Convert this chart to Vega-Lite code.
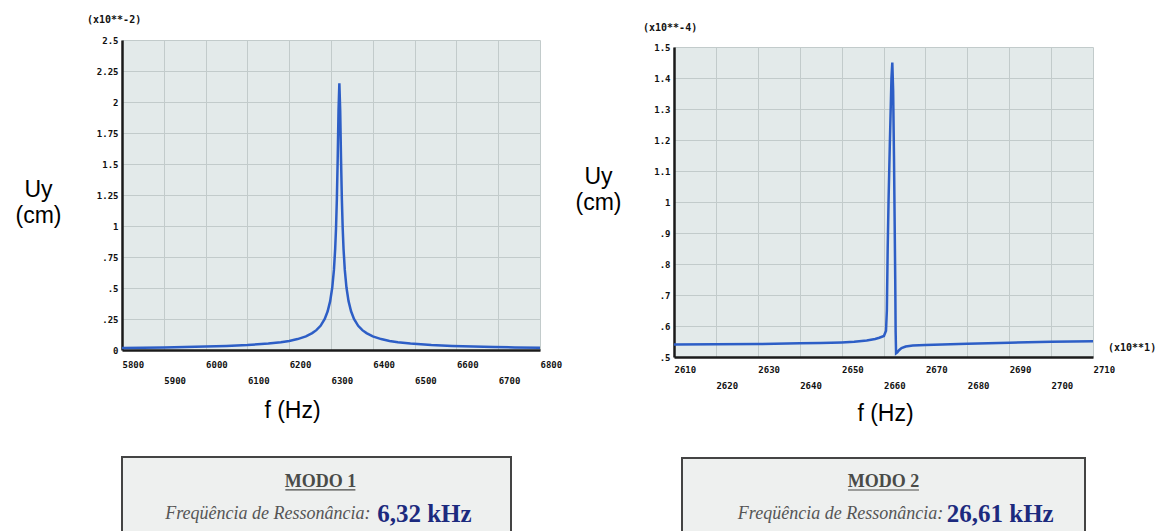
{
  "$schema": "https://vega.github.io/schema/vega-lite/v6.json",
  "background": "white",
  "padding": {"left": 15, "top": 15, "right": 0, "bottom": 0},
  "config": {
    "view": {"stroke": null},
    "axis": {
      "domainColor": "#1a1a1a",
      "domainWidth": 2.5,
      "ticks": false,
      "grid": true,
      "gridColor": "#c2cbcb",
      "gridWidth": 1,
      "labelFont": "DejaVu Sans Mono",
      "labelFontWeight": "bold",
      "labelFontSize": 9,
      "labelColor": "#111111",
      "labelFlush": false,
      "labelOverlap": false,
      "titleFont": "Liberation Sans",
      "titleFontWeight": "normal",
      "titleFontSize": 23,
      "titleColor": "#000000"
    }
  },
  "hconcat": [
    {
      "vconcat": [
        {
          "width": 418,
          "height": 310,
          "view": {"fill": "#e3eaea", "stroke": null},
          "layer": [
            {
              "data": {"values": [
                {"f": 5800, "uy": 0.017}, {"f": 5850, "uy": 0.019}, {"f": 5900, "uy": 0.021}, {"f": 5950, "uy": 0.024},
                {"f": 6000, "uy": 0.028}, {"f": 6050, "uy": 0.033}, {"f": 6100, "uy": 0.040}, {"f": 6150, "uy": 0.052},
                {"f": 6180, "uy": 0.063}, {"f": 6200, "uy": 0.073}, {"f": 6220, "uy": 0.088}, {"f": 6240, "uy": 0.110},
                {"f": 6255, "uy": 0.136}, {"f": 6265, "uy": 0.160}, {"f": 6275, "uy": 0.195}, {"f": 6285, "uy": 0.250},
                {"f": 6292, "uy": 0.312}, {"f": 6298, "uy": 0.394}, {"f": 6303, "uy": 0.504}, {"f": 6307, "uy": 0.646},
                {"f": 6310, "uy": 0.815}, {"f": 6312, "uy": 0.98}, {"f": 6314, "uy": 1.214}, {"f": 6316, "uy": 1.539},
                {"f": 6318, "uy": 1.932}, {"f": 6320, "uy": 2.15}, {"f": 6322, "uy": 1.932}, {"f": 6324, "uy": 1.539},
                {"f": 6326, "uy": 1.214}, {"f": 6328, "uy": 0.98}, {"f": 6330, "uy": 0.815}, {"f": 6333, "uy": 0.646},
                {"f": 6337, "uy": 0.504}, {"f": 6342, "uy": 0.394}, {"f": 6348, "uy": 0.312}, {"f": 6355, "uy": 0.250},
                {"f": 6365, "uy": 0.195}, {"f": 6375, "uy": 0.160}, {"f": 6385, "uy": 0.136}, {"f": 6400, "uy": 0.110},
                {"f": 6420, "uy": 0.088}, {"f": 6440, "uy": 0.073}, {"f": 6460, "uy": 0.063}, {"f": 6490, "uy": 0.052},
                {"f": 6540, "uy": 0.040}, {"f": 6590, "uy": 0.033}, {"f": 6640, "uy": 0.028}, {"f": 6690, "uy": 0.024},
                {"f": 6740, "uy": 0.021}, {"f": 6800, "uy": 0.019}
              ]},
              "mark": {"type": "line", "color": "#2d5ec6", "strokeWidth": 2.5, "clip": true},
              "encoding": {
                "x": {
                  "field": "f", "type": "quantitative",
                  "scale": {"domain": [5800, 6800], "nice": false, "zero": false},
                  "axis": {
                    "values": [5800, 5900, 6000, 6100, 6200, 6300, 6400, 6500, 6600, 6700, 6800],
                    "tickCount": 11,
                    "format": "d",
                    "labelExpr": "(datum.value / 100) % 2 == 1 ? ['', datum.label] : datum.label",
                    "labelAlign": "left",
                    "labelOverlap": false,
                    "labelPadding": 10,
                    "labelLineHeight": 16,
                    "title": "f (Hz)",
                    "titleX": 170,
                    "titleY": 60,
                    "titleAlign": "center",
                    "titleBaseline": "middle"
                  }
                },
                "y": {
                  "field": "uy", "type": "quantitative",
                  "scale": {"domain": [0, 2.5], "nice": false},
                  "axis": {
                    "values": [0, 0.25, 0.5, 0.75, 1, 1.25, 1.5, 1.75, 2, 2.25, 2.5],
                    "tickCount": 11,
                    "format": ".2~f",
                    "labelExpr": "replace(datum.label, '0.', '.')",
                    "labelOverlap": false,
                    "labelPadding": 4,
                    "title": ["Uy", "(cm)"],
                    "titleAngle": 0,
                    "titleAlign": "center",
                    "titleBaseline": "top",
                    "titleLineHeight": 26,
                    "titleX": -84,
                    "titleY": 138
                  }
                }
              }
            },
            {
              "data": {"values": [{"note": "(x10**-2)"}]},
              "mark": {"type": "text", "font": "DejaVu Sans Mono", "fontWeight": "bold", "fontSize": 10, "align": "left", "baseline": "middle", "dx": -35, "dy": -20, "color": "#111111"},
              "encoding": {
                "text": {"field": "note"},
                "x": {"datum": 5800, "type": "quantitative"},
                "y": {"datum": 2.5, "type": "quantitative"}
              }
            }
          ]
        },
        {
          "width": 389,
          "height": 80,
          "view": {"fill": "#eef0ef", "stroke": "#444444", "strokeWidth": 2},
          "data": {"values": [
            {"part": "modo", "text": "MODO 1"},
            {"part": "label", "text": "Freqüência de Ressonância:"},
            {"part": "value", "text": "6,32 kHz"}
          ]},
          "layer": [
            {
              "transform": [{"filter": "datum.part == 'modo'"}],
              "mark": {"type": "text", "font": "Liberation Serif", "fontWeight": "bold", "fontSize": 18, "color": "#4a4b48", "align": "center", "baseline": "middle"},
              "encoding": {
                "text": {"field": "text"},
                "x": {"datum": 0.51, "type": "quantitative", "scale": {"domain": [0, 1]}, "axis": null},
                "y": {"datum": 0.31, "type": "quantitative", "scale": {"domain": [0, 1], "reverse": true}, "axis": null}
              }
            },
            {
              "transform": [{"filter": "datum.part == 'modo'"}],
              "mark": {"type": "rule", "color": "#4a4b48", "strokeWidth": 1.2},
              "encoding": {
                "x": {"datum": 0.42, "type": "quantitative", "axis": null},
                "x2": {"datum": 0.60},
                "y": {"datum": 0.41, "type": "quantitative", "axis": null}
              }
            },
            {
              "transform": [{"filter": "datum.part == 'label'"}],
              "mark": {"type": "text", "font": "Liberation Serif", "fontStyle": "italic", "fontSize": 18, "color": "#555555", "align": "right", "baseline": "middle"},
              "encoding": {
                "text": {"field": "text"},
                "x": {"datum": 0.639, "type": "quantitative", "axis": null},
                "y": {"datum": 0.71, "type": "quantitative", "axis": null}
              }
            },
            {
              "transform": [{"filter": "datum.part == 'value'"}],
              "mark": {"type": "text", "font": "Liberation Serif", "fontWeight": "bold", "fontSize": 25, "color": "#1c2a7e", "align": "left", "baseline": "middle"},
              "encoding": {
                "text": {"field": "text"},
                "x": {"datum": 0.656, "type": "quantitative", "axis": null},
                "y": {"datum": 0.71, "type": "quantitative", "axis": null}
              }
            }
          ]
        }
      ],
      "spacing": 107,
      "bounds": "flush"
    },
    {
      "vconcat": [
        {
          "width": 419,
          "height": 1,
          "view": {"stroke": null, "fill": null},
          "data": {"values": [{"t": ""}]},
          "mark": {"type": "text"},
          "encoding": {"text": {"field": "t"}}
        },
        {
          "vconcat": [
            {
              "width": 419,
              "height": 310,
              "view": {"fill": "#e3eaea", "stroke": null},
              "layer": [
                {
                  "data": {"values": [
                    {"f": 2610, "uy": 0.540}, {"f": 2620, "uy": 0.541}, {"f": 2630, "uy": 0.542}, {"f": 2640, "uy": 0.544},
                    {"f": 2645, "uy": 0.545}, {"f": 2650, "uy": 0.547}, {"f": 2653, "uy": 0.549}, {"f": 2656, "uy": 0.553},
                    {"f": 2658, "uy": 0.558}, {"f": 2659, "uy": 0.562}, {"f": 2660.1, "uy": 0.568}, {"f": 2660.6, "uy": 0.585},
                    {"f": 2660.8, "uy": 0.65}, {"f": 2661.0, "uy": 0.85}, {"f": 2661.2, "uy": 1.0}, {"f": 2661.5, "uy": 1.18},
                    {"f": 2661.9, "uy": 1.40}, {"f": 2662.1, "uy": 1.45}, {"f": 2662.3, "uy": 1.36}, {"f": 2662.5, "uy": 1.15},
                    {"f": 2662.65, "uy": 0.95}, {"f": 2662.8, "uy": 0.75}, {"f": 2662.9, "uy": 0.58}, {"f": 2663.0, "uy": 0.512},
                    {"f": 2663.3, "uy": 0.515}, {"f": 2663.7, "uy": 0.522}, {"f": 2664.3, "uy": 0.529}, {"f": 2665.3, "uy": 0.534},
                    {"f": 2667, "uy": 0.537}, {"f": 2670, "uy": 0.539}, {"f": 2680, "uy": 0.543}, {"f": 2690, "uy": 0.546},
                    {"f": 2700, "uy": 0.549}, {"f": 2710, "uy": 0.551}
                  ]},
                  "mark": {"type": "line", "color": "#2d5ec6", "strokeWidth": 2.5, "clip": true},
                  "encoding": {
                    "x": {
                      "field": "f", "type": "quantitative",
                      "scale": {"domain": [2610, 2710], "nice": false, "zero": false},
                      "axis": {
                        "values": [2610, 2620, 2630, 2640, 2650, 2660, 2670, 2680, 2690, 2700, 2710],
                        "tickCount": 11,
                        "format": "d",
                        "labelExpr": "(datum.value / 10) % 2 == 0 ? ['', datum.label] : datum.label",
                        "labelAlign": "left",
                        "labelOverlap": false,
                        "labelPadding": 8,
                        "labelLineHeight": 16,
                        "title": "f (Hz)",
                        "titleX": 211,
                        "titleY": 56,
                        "titleAlign": "center",
                        "titleBaseline": "middle"
                      }
                    },
                    "y": {
                      "field": "uy", "type": "quantitative",
                      "scale": {"domain": [0.5, 1.5], "nice": false, "zero": false},
                      "axis": {
                        "values": [0.5, 0.6, 0.7, 0.8, 0.9, 1, 1.1, 1.2, 1.3, 1.4, 1.5],
                        "tickCount": 11,
                        "format": ".1~f",
                        "labelExpr": "replace(datum.label, '0.', '.')",
                        "labelOverlap": false,
                        "labelPadding": 4,
                        "title": ["Uy", "(cm)"],
                        "titleAngle": 0,
                        "titleAlign": "center",
                        "titleBaseline": "top",
                        "titleLineHeight": 26,
                        "titleX": -76,
                        "titleY": 118
                      }
                    }
                  }
                },
                {
                  "data": {"values": [{"note": "(x10**-4)"}]},
                  "mark": {"type": "text", "font": "DejaVu Sans Mono", "fontWeight": "bold", "fontSize": 10, "align": "left", "baseline": "middle", "dx": -31, "dy": -19, "color": "#111111"},
                  "encoding": {
                    "text": {"field": "note"},
                    "x": {"datum": 2610, "type": "quantitative"},
                    "y": {"datum": 1.5, "type": "quantitative"}
                  }
                },
                {
                  "data": {"values": [{"note": "(x10**1)"}]},
                  "mark": {"type": "text", "font": "DejaVu Sans Mono", "fontWeight": "bold", "fontSize": 10, "align": "left", "baseline": "middle", "dx": 15, "dy": -9, "color": "#111111"},
                  "encoding": {
                    "text": {"field": "note"},
                    "x": {"datum": 2710, "type": "quantitative"},
                    "y": {"datum": 0.5, "type": "quantitative"}
                  }
                }
              ]
            },
            {
              "width": 403,
              "height": 80,
              "view": {"fill": "#eef0ef", "stroke": "#444444", "strokeWidth": 2},
              "data": {"values": [
                {"part": "modo", "text": "MODO 2"},
                {"part": "label", "text": "Freqüência de Ressonância:"},
                {"part": "value", "text": "26,61 kHz"}
              ]},
              "layer": [
                {
                  "transform": [{"filter": "datum.part == 'modo'"}],
                  "mark": {"type": "text", "font": "Liberation Serif", "fontWeight": "bold", "fontSize": 18, "color": "#4a4b48", "align": "center", "baseline": "middle"},
                  "encoding": {
                    "text": {"field": "text"},
                    "x": {"datum": 0.50, "type": "quantitative", "scale": {"domain": [0, 1]}, "axis": null},
                    "y": {"datum": 0.30, "type": "quantitative", "scale": {"domain": [0, 1], "reverse": true}, "axis": null}
                  }
                },
                {
                  "transform": [{"filter": "datum.part == 'modo'"}],
                  "mark": {"type": "rule", "color": "#4a4b48", "strokeWidth": 1.2},
                  "encoding": {
                    "x": {"datum": 0.412, "type": "quantitative", "axis": null},
                    "x2": {"datum": 0.588},
                    "y": {"datum": 0.40, "type": "quantitative", "axis": null}
                  }
                },
                {
                  "transform": [{"filter": "datum.part == 'label'"}],
                  "mark": {"type": "text", "font": "Liberation Serif", "fontStyle": "italic", "fontSize": 18, "color": "#555555", "align": "right", "baseline": "middle"},
                  "encoding": {
                    "text": {"field": "text"},
                    "x": {"datum": 0.648, "type": "quantitative", "axis": null},
                    "y": {"datum": 0.70, "type": "quantitative", "axis": null}
                  }
                },
                {
                  "transform": [{"filter": "datum.part == 'value'"}],
                  "mark": {"type": "text", "font": "Liberation Serif", "fontWeight": "bold", "fontSize": 25, "color": "#1c2a7e", "align": "left", "baseline": "middle"},
                  "encoding": {
                    "text": {"field": "text"},
                    "x": {"datum": 0.657, "type": "quantitative", "axis": null},
                    "y": {"datum": 0.70, "type": "quantitative", "axis": null}
                  }
                }
              ]
            }
          ],
          "spacing": 101,
          "center": true,
          "bounds": "flush"
        }
      ],
      "spacing": 6,
      "bounds": "flush"
    }
  ],
  "spacing": 13
}
